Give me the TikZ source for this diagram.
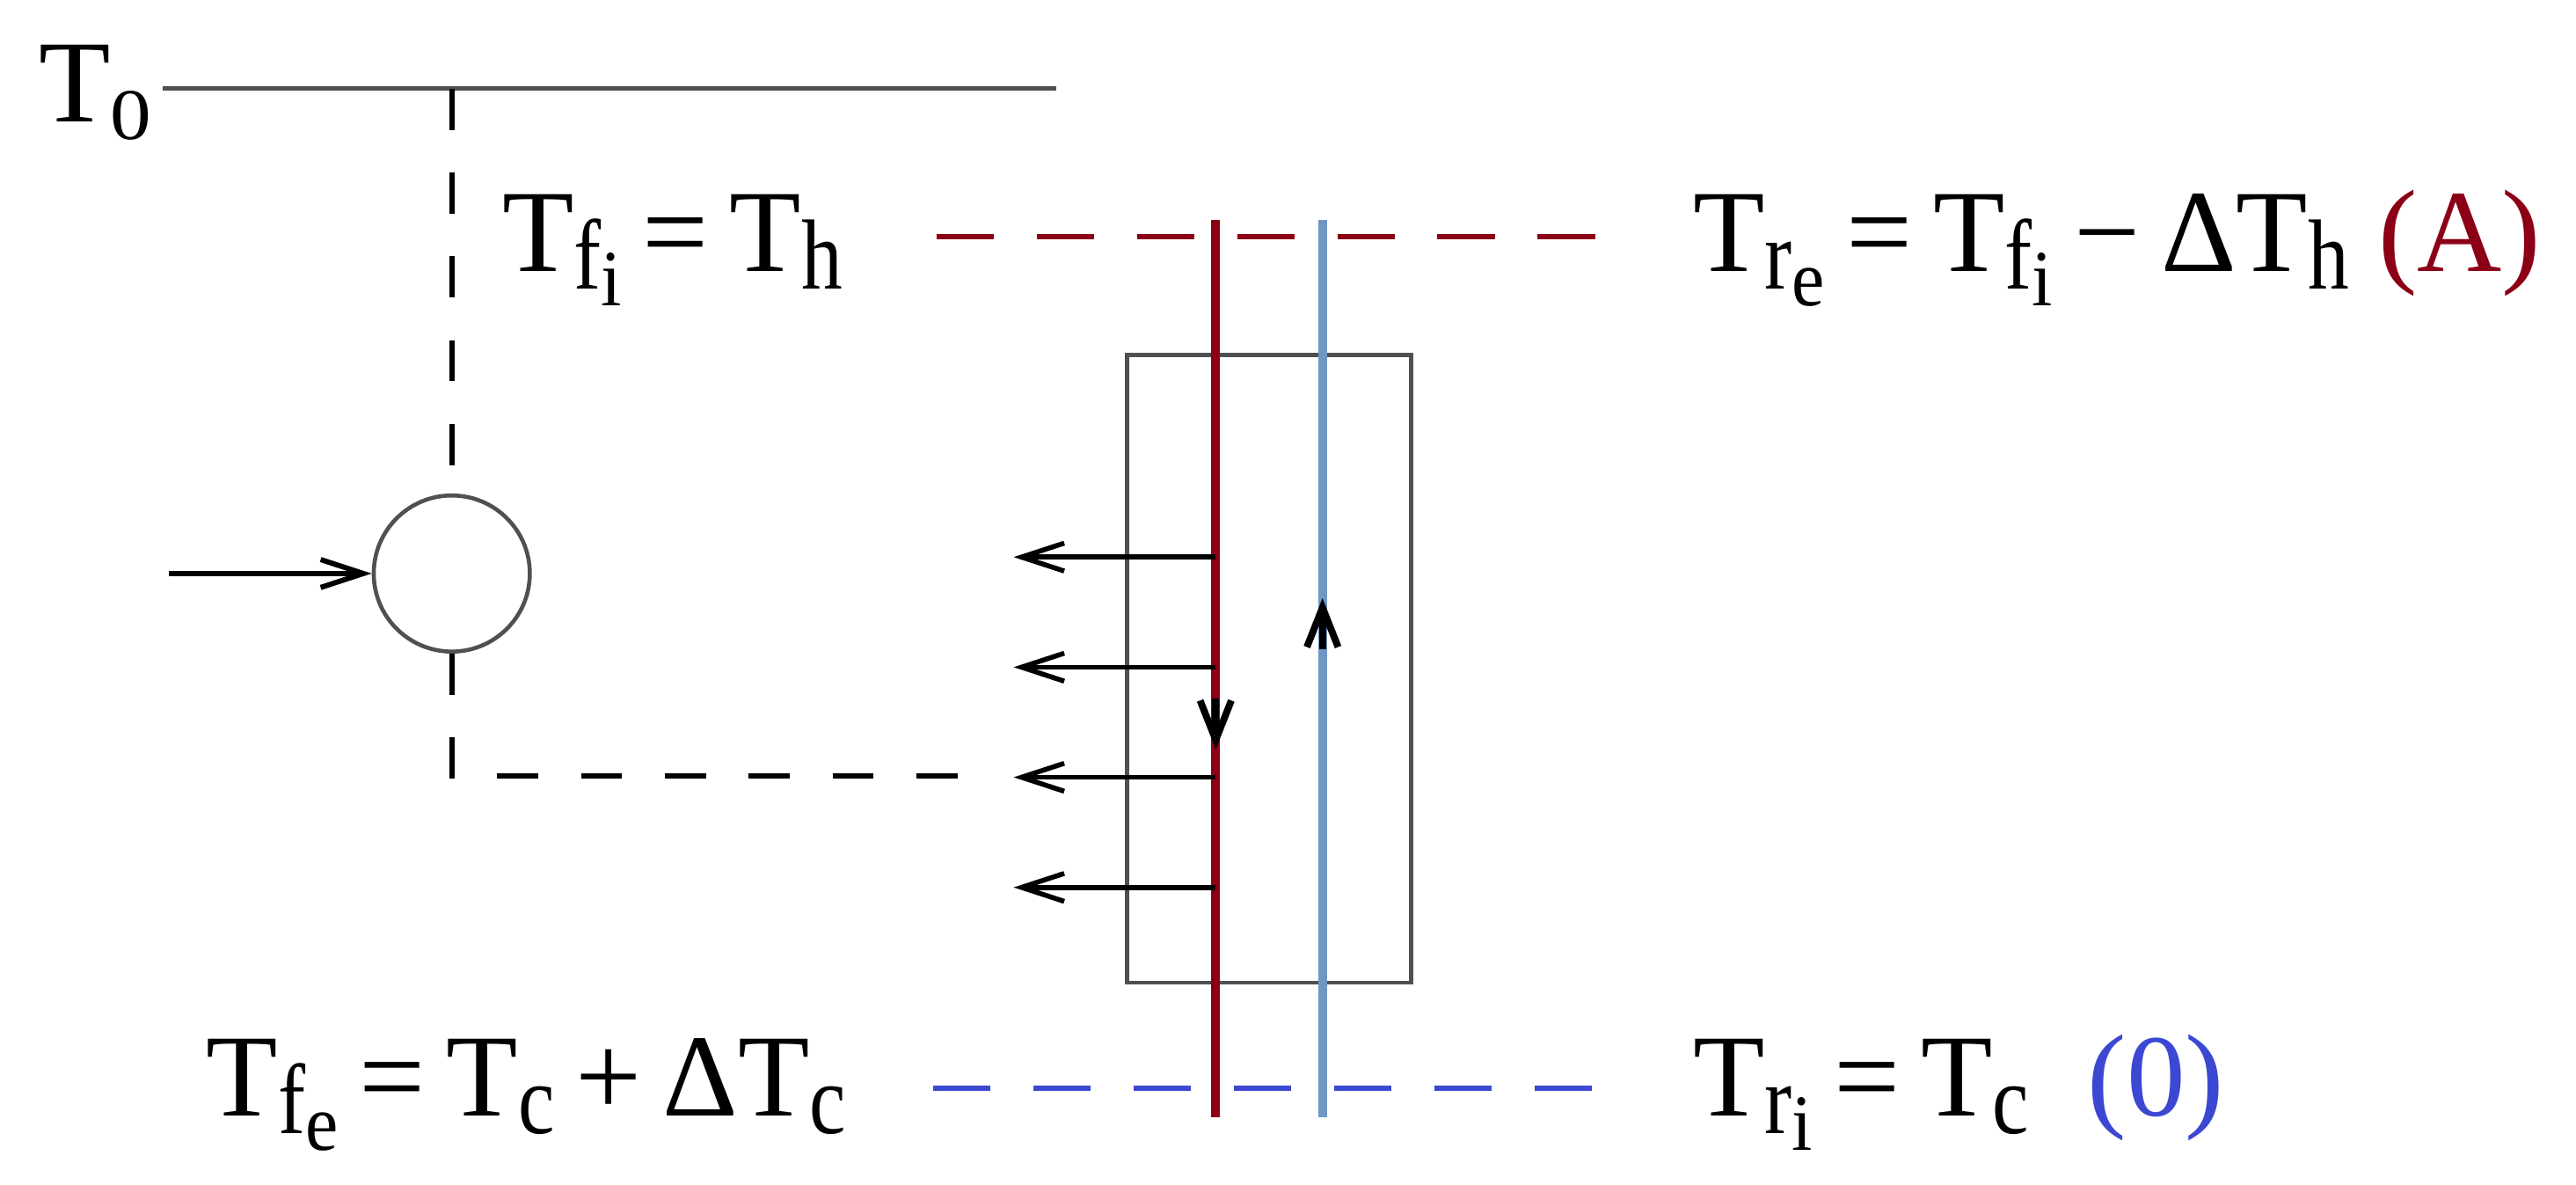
\documentclass[tikz,border=0pt]{standalone}
\usepackage{graphicx}
\usepackage{fontspec}
\setmainfont{Liberation Serif}
\usetikzlibrary{arrows.meta}
\definecolor{hotred}{RGB}{139,0,22}
\definecolor{coldblue}{RGB}{112,150,196}
\definecolor{dashblue}{RGB}{60,72,210}
\definecolor{frame}{RGB}{80,80,80}
\newcommand{\lowa}[2][0.85]{\raisebox{-0.15em}{\scalebox{0.7}[#1]{#2}}}
\newcommand{\lowb}[1]{\raisebox{-0.17em}{\scalebox{0.9}[0.8]{#1}}}
\newcommand{\gap}{\hspace{0.18em}}

\begin{document}
\begin{tikzpicture}[x=0.1mm, y=-0.1mm,
  every node/.style={font=\fontsize{20.3}{24}\selectfont, inner sep=0pt},
  lbl/.style={anchor=base west},
  wall/.style={draw=frame, line width=0.7pt},
  flow/.style={-{Straight Barb[length=2.6mm,width=1.7mm]}, line width=0.9pt},
  heat/.style={-{Straight Barb[length=2.6mm,width=1.7mm]}, line width=0.85pt},
  dirarrow/.style={-{Straight Barb[length=2.4mm,width=1.9mm]}, line width=1.2pt},
  guide/.style={dash pattern=on 2.5mm off 2.6mm, line width=0.9pt},
  level/.style={dash pattern=on 3.5mm off 2.6mm, line width=0.9pt},
  pipe/.style={line width=1.5pt}]
\useasboundingbox (0,0) rectangle (1568,721);

% ambient level and pump loop
\node[lbl] (t0) at (23,74) {T\lowa[0.62]{0}};
\coordinate (t0a) at (99,54);
\coordinate (t0b) at (643,54);
\draw[draw=frame, line width=0.8pt] (t0a) -- (t0b);
\node[circle, wall, minimum size=9.5mm] (pump) at (275,349) {};
\coordinate (tap) at (275,54);
\draw[guide] (tap) -- (pump.north);
\coordinate (inlet) at (103,349);
\draw[flow] (inlet) -- (pump.west);
\coordinate (ret) at (588,472);
\draw[guide] (pump.south) |- (ret);

% temperature labels
\node[lbl] (tfi) at (305,165) {T\lowa{f\lowb{i}}\gap=\gap T\lowa{h}};
\node[lbl] (tre) at (1030,165) {T\lowa{r\lowb{e}}\gap=\gap T\lowa{f\lowb{i}}\gap−\gap ΔT\lowa{h} \textcolor{hotred}{(A)}};
\node[lbl] (tfe) at (125,679) {T\lowa{f\lowb{e}}\gap=\gap T\lowa{c}\gap+\gap ΔT\lowa{c}};
\node[lbl] (tri) at (1030,679) {T\lowa{r\lowb{i}}\gap=\gap T\lowa{c}\ \ \textcolor{dashblue}{(0)}};

% hot and cold levels
\coordinate (hotl) at (570,144);
\coordinate (hotr) at (975,144);
\draw[level, hotred] (hotl) -- (hotr);
\coordinate (coldl) at (568,662);
\coordinate (coldr) at (970,662);
\draw[level, dashblue] (coldl) -- (coldr);

% exchanger
\node[wall, minimum width=17.3mm, minimum height=38.2mm] (hx) at (772.5,407) {};
\coordinate (hotin) at (740,134);
\coordinate (hotout) at (740,680);
\draw[pipe, hotred] (hotin) -- (hotout);
\coordinate (coldin) at (805,680);
\coordinate (coldout) at (805,134);
\draw[pipe, coldblue] (coldin) -- (coldout);
\coordinate (hd1) at (740,425);
\coordinate (hd2) at (740,456);
\draw[dirarrow] (hd1) -- (hd2);
\coordinate (cu1) at (805,395);
\coordinate (cu2) at (805,364);
\draw[dirarrow] (cu1) -- (cu2);

% heat flux
\foreach \y [count=\i] in {339,406,473,540} {
  \coordinate (src\i) at (740,\y);
  \coordinate (dst\i) at (617,\y);
  \draw[heat] (src\i) -- (dst\i);
}
\end{tikzpicture}
\end{document}
